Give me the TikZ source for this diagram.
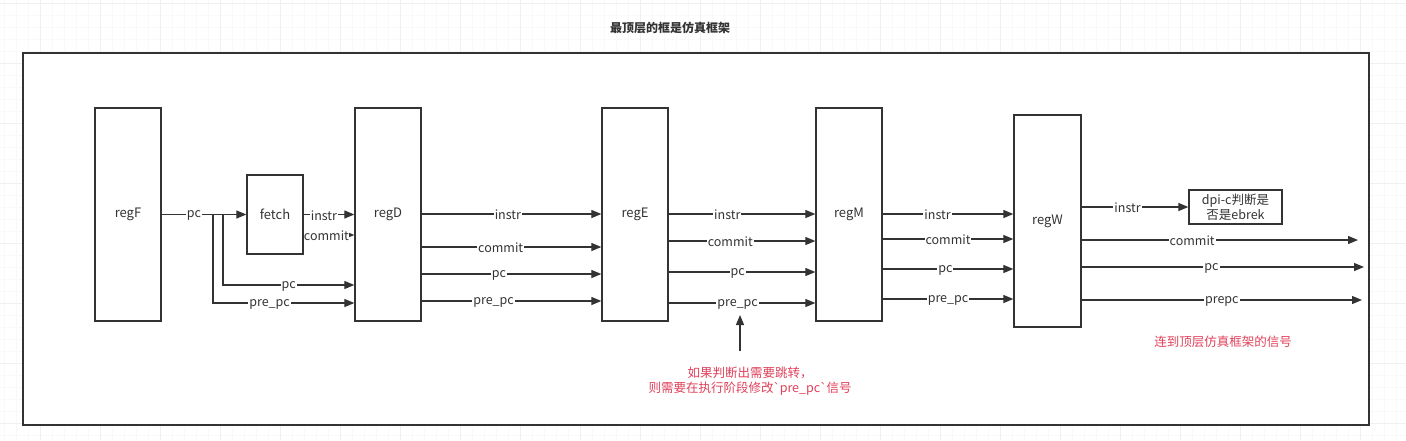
\documentclass[tikz,border=0pt]{standalone}
\usepackage{fontspec}
\setmainfont{Noto Sans CJK SC}
\newfontfamily\gravefont{DejaVu Sans}
\newcommand{\bq}{{\gravefont\symbol{96}}}
\usetikzlibrary{arrows.meta}
\definecolor{ink}{HTML}{333333}
\definecolor{note}{HTML}{E0405A}
\tikzset{
  x=1pt, y=-1pt,
  reg/.style={draw=ink, line width=1.3pt, fill=white, minimum width=66pt, minimum height=213pt, inner sep=0pt, font=\fontsize{13}{15}\selectfont, text=ink},
  blk/.style={draw=ink, line width=1.3pt, fill=white, inner sep=0pt, font=\fontsize{13}{15}\selectfont, text=ink},
  arr/.style={draw=ink, line width=1.2pt, -{Triangle[length=10pt,width=8pt]}},
  wire/.style={draw=ink, line width=1.2pt},
  lbl/.style={fill=white, inner sep=1pt, yshift=-1pt, font=\fontsize{12.5}{14}\selectfont, text=ink},
  redtxt/.style={text=note, font=\fontsize{12.5}{15.5}\selectfont, align=center, inner sep=0pt},
}
\begin{document}
\begin{tikzpicture}
\useasboundingbox (0,0) rectangle (1406,440);
% background grid
\foreach \gx in {4,16,...,1406} \draw[gray!5, line width=0.4pt] (\gx,0) -- (\gx,440);
\foreach \gy in {3,15,...,440} \draw[gray!5, line width=0.4pt] (0,\gy) -- (1406,\gy);
\foreach \gx in {40,100,...,1406} \draw[gray!12, line width=0.6pt] (\gx,0) -- (\gx,440);
\foreach \gy in {3,63,...,440} \draw[gray!12, line width=0.6pt] (0,\gy) -- (1406,\gy);
% outer frame
\draw[ink, line width=1.3pt, fill=white] (23,53) rectangle (1369,425);
\node[font=\bfseries\fontsize{12}{14}\selectfont, text=ink] (title) at (670,28) {最顶层的框是仿真框架};

% registers
\node[reg] (regF) at (128,214.5) {regF};
\node[blk, minimum width=56pt, minimum height=79pt] (fetch) at (275,214.5) {fetch};
\node[reg] (regD) at (388,214.5) {regD};
\node[reg] (regE) at (635,214.5) {regE};
\node[reg] (regM) at (849,214.5) {regM};
\node[reg, minimum width=67pt, minimum height=212pt] (regW) at (1047.5,221) {regW};
\node[blk, minimum width=93pt, minimum height=34pt, align=center, font=\fontsize{12.5}{15}\selectfont] (dpi) at (1235.5,207) {dpi-c判断是\\否是ebrek};

% regF -> fetch
\draw[arr] (regF.east) -- node[lbl, pos=0.38] {pc} (fetch.west);
\coordinate (b1) at (223,214.5);
\coordinate (b2) at (213,214.5);
\draw[arr] (b1) -- (223,285) -- node[lbl, pos=0.5] {pc} (regD.west |- 0,285);
\draw[arr] (b2) -- (213,303) -- node[lbl, pos=0.4] {pre\_pc} (regD.west |- 0,303);

% fetch -> regD
\draw[arr] (fetch.east) -- node[lbl, pos=0.4] {instr} (regD.west |- fetch.east);
\draw[arr] (fetch.east |- 0,235) -- node[lbl, pos=0.45, inner sep=0pt] {commit} (regD.west |- 0,235);

% regD -> regE
\draw[arr] (regD.east |- 0,214) -- node[lbl, pos=0.48] {instr} (regE.west |- 0,214);
\draw[arr] (regD.east |- 0,247) -- node[lbl, pos=0.44] {commit} (regE.west |- 0,247);
\draw[arr] (regD.east |- 0,274) -- node[lbl, pos=0.43] {pc} (regE.west |- 0,274);
\draw[arr] (regD.east |- 0,301) -- node[lbl, pos=0.40] {pre\_pc} (regE.west |- 0,301);

% regE -> regM
\draw[arr] (regE.east |- 0,214) -- node[lbl, pos=0.40] {instr} (regM.west |- 0,214);
\draw[arr] (regE.east |- 0,241) -- node[lbl, pos=0.42] {commit} (regM.west |- 0,241);
\draw[arr] (regE.east |- 0,272) -- node[lbl, pos=0.47] {pc} (regM.west |- 0,272);
\draw[arr] (regE.east |- 0,303) -- node[lbl, pos=0.47] (ppE) {pre\_pc} (regM.west |- 0,303);

% regM -> regW
\draw[arr] (regM.east |- 0,214) -- node[lbl, pos=0.42] {instr} (regW.west |- 0,214);
\draw[arr] (regM.east |- 0,239) -- node[lbl, pos=0.50] {commit} (regW.west |- 0,239);
\draw[arr] (regM.east |- 0,269) -- node[lbl, pos=0.48] {pc} (regW.west |- 0,269);
\draw[arr] (regM.east |- 0,299) -- node[lbl, pos=0.50] {pre\_pc} (regW.west |- 0,299);

% regW outputs
\coordinate (oc) at (1358,240);
\coordinate (op) at (1364,267);
\coordinate (oq) at (1362,300);
\draw[arr] (regW.east |- dpi.west) -- node[lbl, pos=0.43] {instr} (dpi.west);
\draw[arr] (regW.east |- oc) -- node[lbl, pos=0.40] {commit} (oc);
\draw[arr] (regW.east |- op) -- node[lbl, pos=0.46] {pc} (op);
\draw[arr] (regW.east |- oq) -- node[lbl, pos=0.50] {prepc} (oq);

% notes
\node[redtxt] (note1) at (1223,342) {连到顶层仿真框架的信号};
\node[redtxt] (note2) at (750,381) {如果判断出需要跳转，\\则需要在执行阶段修改\bq pre\_pc\bq 信号};
\coordinate (up0) at (740,351);
\draw[arr] (up0) -- (740,315);
\end{tikzpicture}
\end{document}
